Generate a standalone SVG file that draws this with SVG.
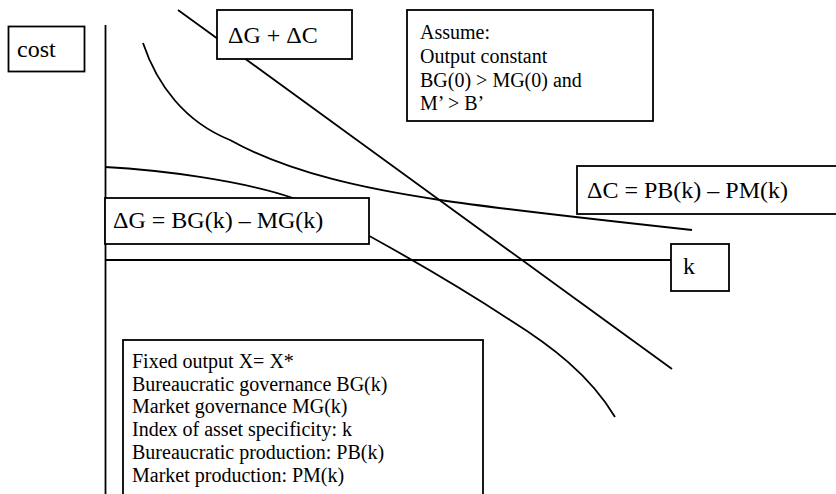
<svg xmlns="http://www.w3.org/2000/svg" width="836" height="494" viewBox="0 0 836 494">
<style>
.box{fill:#fff;stroke:#000;stroke-width:1.8}
.ln{fill:none;stroke:#000;stroke-width:1.8}
text{font-family:"Liberation Serif","Times New Roman",serif;fill:#000}
.big{font-size:24px}
.sm{font-size:20px}
</style>
<rect width="836" height="494" fill="#fff"/>
<g id="connectors">
<line class="ln" x1="105.5" y1="25" x2="105.5" y2="494"/>
<line class="ln" x1="105" y1="260" x2="671" y2="260"/>
<line class="ln" x1="178" y1="10" x2="672" y2="369"/>
<path class="ln" d="M143,43 C157,85 185,122 230,140 C290,173.6 370,189.7 440,200 C500,209 600,220 692,230"/>
<path class="ln" d="M105,167 C160,170 240,180 293,198 C330,212 440,274 510,320 C550,345 590,375 615,417"/>
</g>
<g id="cost">
<rect class="box" x="8.5" y="26.5" width="76" height="45"/>
<text class="big" x="17" y="57">cost</text>
</g>
<g id="sum">
<rect class="box" x="217" y="10" width="135" height="49"/>
<text class="big" x="228" y="43">ΔG + ΔC</text>
</g>
<g id="assume">
<rect class="box" x="407" y="10" width="246" height="111"/>
<text class="sm" x="420" y="39">Assume:</text>
<text class="sm" x="420" y="63">Output constant</text>
<text class="sm" x="420" y="87">BG(0) &gt; MG(0) and</text>
<text class="sm" x="420" y="110">M’ &gt; B’</text>
</g>
<g id="deltaC">
<rect class="box" x="577" y="166" width="265" height="48"/>
<text class="big" x="587" y="198">ΔC = PB(k) – PM(k)</text>
</g>
<g id="deltaG">
<rect class="box" x="105" y="198" width="264" height="46"/>
<text class="big" x="113" y="228">ΔG = BG(k) – MG(k)</text>
</g>
<g id="k">
<rect class="box" x="671" y="244" width="58" height="47"/>
<text class="big" x="683" y="274">k</text>
</g>
<g id="legend">
<rect class="box" x="123" y="340" width="360" height="170"/>
<text class="sm" x="132" y="368">Fixed output X= X*</text>
<text class="sm" x="132" y="391">Bureaucratic governance BG(k)</text>
<text class="sm" x="132" y="413">Market governance MG(k)</text>
<text class="sm" x="132" y="436">Index of asset specificity: k</text>
<text class="sm" x="132" y="459">Bureaucratic production: PB(k)</text>
<text class="sm" x="132" y="482">Market production: PM(k)</text>
</g>
</svg>
